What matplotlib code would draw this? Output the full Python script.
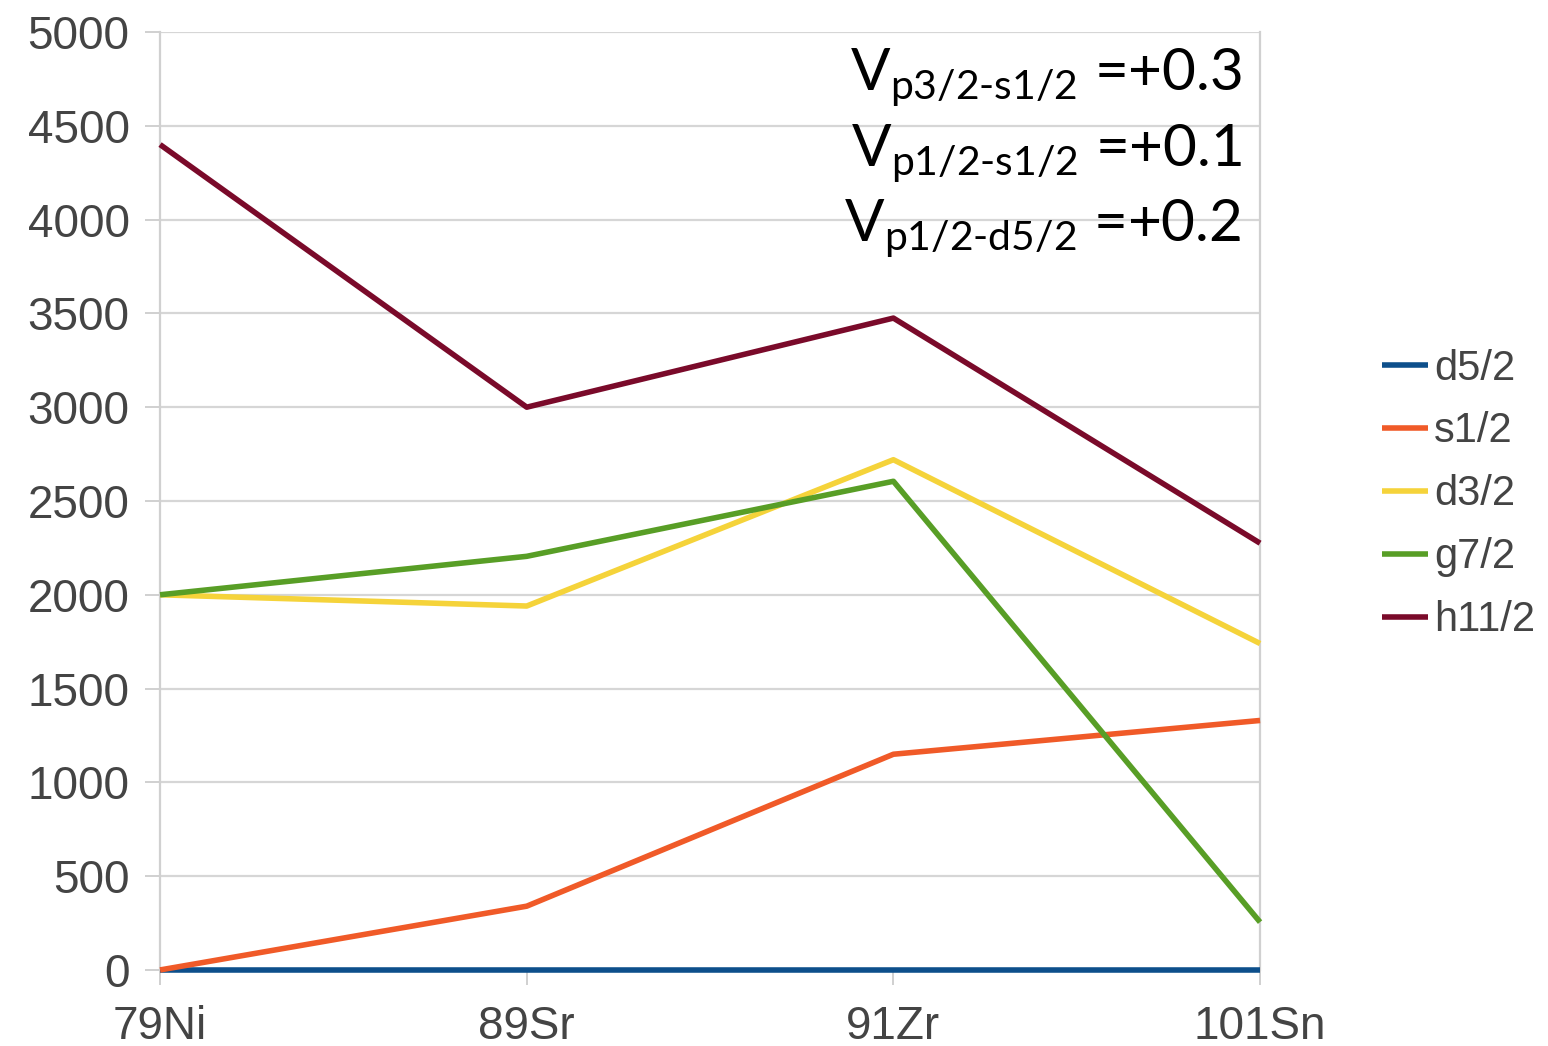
import matplotlib
matplotlib.use("Agg")
from matplotlib import pyplot as plt
import numpy as np

nuclei = ["79Ni", "89Sr", "91Zr", "101Sn"]
orbitals = ["d5/2", "s1/2", "d3/2", "g7/2", "h11/2"]
d52 = [0, 0, 0, 0]
s12 = [0, 340, 1150, 1330]
d32 = [2000, 1940, 2720, 1740]
g72 = [2000, 2205, 2605, 255]
h112 = [4400, 3000, 3475, 2275]
y_ticks = [0, 500, 1000, 1500, 2000, 2500, 3000, 3500, 4000, 4500, 5000]
notes = [("p3/2", "s1/2", "+0.3"), ("p1/2", "s1/2", "+0.1"), ("p1/2", "d5/2", "+0.2")]

colors = ["#0d4f8b", "#f05a28", "#f5d33a", "#589e26", "#7a0a2a"]

plt.rcParams['mathtext.fontset'] = 'custom'
plt.rcParams['mathtext.rm'] = 'Lato'
plt.rcParams['mathtext.it'] = 'Lato'

fig = plt.figure(figsize=(15.48, 10.46), dpi=100)
ax = fig.add_axes([0.1034, 0.0727, 0.7106, 0.8967])

x = np.arange(len(nuclei))
for series, name, c in zip([d52, s12, d32, g72, h112], orbitals, colors):
    ax.plot(x, series, color=c, lw=4, label=name, solid_capstyle='butt',
            zorder=3, clip_on=False)

ax.set_xlim(0, len(nuclei) - 1)
ax.set_ylim(0, 5000)
ax.set_yticks(y_ticks)
ax.set_xticks(x)
ax.set_xticklabels(nuclei)
ax.grid(axis='y', color='#d6d6d6', lw=1.6)
ax.set_axisbelow(True)

for side in ['left', 'right']:
    ax.spines[side].set_color('#d0d0d0')
    ax.spines[side].set_linewidth(1.6)
ax.spines['top'].set_visible(False)
ax.spines['bottom'].set_visible(False)

ax.tick_params(axis='both', colors='#d0d0d0', width=1.4, labelcolor='#444444',
               labelsize=33)
ax.tick_params(axis='y', length=11, pad=11)
ax.tick_params(axis='x', length=11, pad=14)
for lab in ax.get_xticklabels() + ax.get_yticklabels():
    lab.set_family('Liberation Sans')

leg = ax.legend(loc='center left', bbox_to_anchor=(1.111, 0.507), frameon=False,
                prop={'family': 'Liberation Sans', 'size': 30}, labelcolor='#444444',
                handlelength=1.1, handletextpad=0.15, labelspacing=0.55, borderpad=0,
                borderaxespad=0)

for i, (a, b, v) in enumerate(notes):
    s = r'V$_{\mathrm{%s}\text{-}\mathrm{%s}}$ =%s' % (a, b, v)
    fig.text(0.802, 0.926 - i * 0.072, s, ha='right', va='center',
             fontsize=42, family='Lato', color='black')

fig.savefig("out.png", dpi=100, facecolor='white')
